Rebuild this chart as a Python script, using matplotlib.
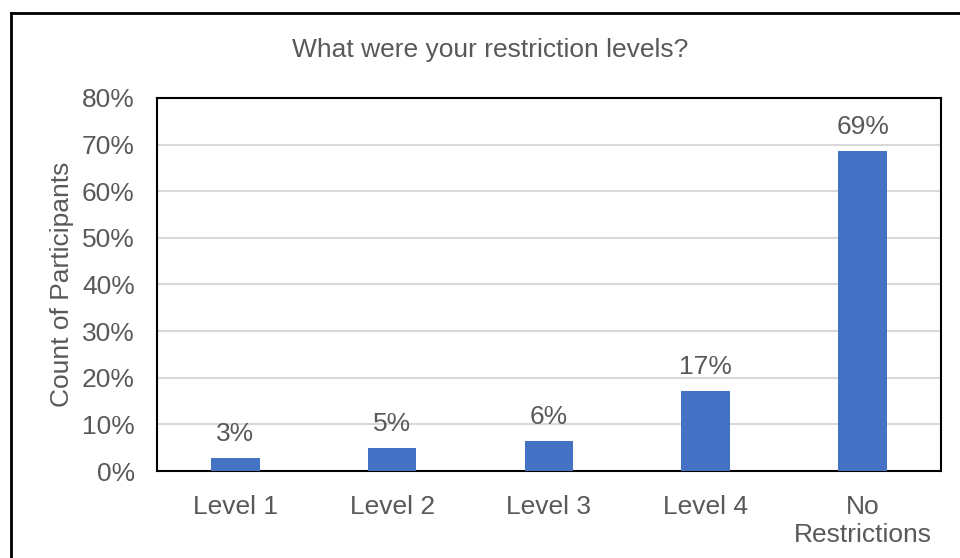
import matplotlib.pyplot as plt
from matplotlib.lines import Line2D
from matplotlib.ticker import PercentFormatter

plt.rcParams['font.family'] = ['Liberation Sans', 'DejaVu Sans']

levels = ['Level 1', 'Level 2', 'Level 3', 'Level 4', 'No\nRestrictions']
share = [2.8, 4.9, 6.4, 17.2, 68.6]
y_ticks = [0, 10, 20, 30, 40, 50, 60, 70, 80]

text_grey = '#595959'
bar_blue = '#4472c4'

fig = plt.figure(figsize=(9.6, 5.58), dpi=100)
ax = fig.add_axes([0.1635, 0.1559, 0.8167, 0.6685])

x = range(len(levels))
ax.bar(x, share, width=0.31, color=bar_blue, zorder=3)
for xi, v in zip(x, share):
    ax.annotate(f'{v:.0f}%', (xi, v), xytext=(0, 8.5), textcoords='offset points',
                ha='center', va='bottom', fontsize=19, color=text_grey)

ax.set_xlim(-0.5, len(levels) - 0.5)
ax.set_ylim(0, 80)
ax.set_yticks(y_ticks)
ax.yaxis.set_major_formatter(PercentFormatter(decimals=0))
ax.set_xticks(list(x))
ax.set_xticklabels(levels, linespacing=1.25)
ax.tick_params(axis='both', length=0, labelsize=19, labelcolor=text_grey)
ax.tick_params(axis='y', pad=16)
ax.tick_params(axis='x', pad=17)
ax.grid(axis='y', color='#d9d9d9', linewidth=1.5, zorder=0)
for s in ax.spines.values():
    s.set_color('black')
    s.set_linewidth(1.5)

ax.set_ylabel('Count of Participants', fontsize=19, color=text_grey, labelpad=6)
fig.text(0.511, 0.91, 'What were your restriction levels?', ha='center',
         va='center', fontsize=19, color=text_grey)

# chart area border, only top and left edge fall inside the image
fig.add_artist(Line2D([0.011, 1.0], [0.976, 0.976], color='black', linewidth=2,
                      transform=fig.transFigure))
fig.add_artist(Line2D([0.011, 0.011], [0.0, 0.976], color='black', linewidth=2,
                      transform=fig.transFigure))

fig.savefig('out.png', dpi=100)
